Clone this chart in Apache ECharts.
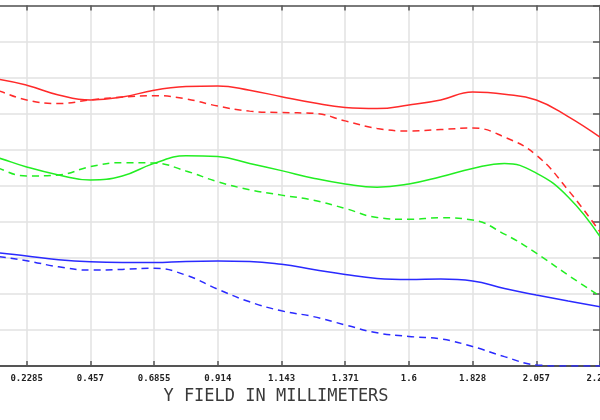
<!DOCTYPE html>
<html>
<head>
<meta charset="utf-8">
<script src="https://cdn.jsdelivr.net/npm/echarts@6/dist/echarts.min.js"></script>
<style>html,body{margin:0;padding:0;background:#fff}#c{width:600px;height:420px}</style>
</head>
<body>
<div id="c"></div>
<script>
// Field positions (mm)
const fields = [0, 0.1143, 0.2285, 0.3428, 0.457, 0.5713, 0.6855, 0.7998, 0.914, 1.0283, 1.1425, 1.2568, 1.371, 1.4853, 1.5995, 1.7138, 1.828, 1.9423, 2.0565, 2.1708, 2.285];
const tickLabels = ['0', '0.2285', '0.457', '0.6855', '0.914', '1.143', '1.371', '1.6', '1.828', '2.057', '2.285'];
const xTitle = 'Y FIELD IN MILLIMETERS';

const redSolid   = [0.804, 0.797, 0.779, 0.752, 0.738, 0.746, 0.765, 0.775, 0.777, 0.765, 0.747, 0.730, 0.717, 0.714, 0.724, 0.738, 0.760, 0.754, 0.738, 0.692, 0.635];
const redDashed  = [0.785, 0.766, 0.738, 0.728, 0.738, 0.746, 0.750, 0.741, 0.721, 0.707, 0.703, 0.701, 0.680, 0.659, 0.652, 0.656, 0.660, 0.635, 0.585, 0.488, 0.372];
const greenSolid = [0.599, 0.580, 0.552, 0.530, 0.516, 0.527, 0.562, 0.583, 0.581, 0.562, 0.542, 0.521, 0.505, 0.496, 0.505, 0.525, 0.548, 0.562, 0.535, 0.469, 0.359];
const greenDashed= [0.580, 0.552, 0.527, 0.530, 0.553, 0.564, 0.563, 0.541, 0.511, 0.489, 0.474, 0.460, 0.437, 0.412, 0.407, 0.411, 0.405, 0.366, 0.313, 0.252, 0.194];
const blueSolid  = [0.322, 0.315, 0.305, 0.295, 0.289, 0.287, 0.287, 0.290, 0.291, 0.290, 0.282, 0.268, 0.254, 0.243, 0.240, 0.241, 0.236, 0.215, 0.197, 0.180, 0.164];
const blueDashed = [0.316, 0.305, 0.292, 0.275, 0.266, 0.268, 0.271, 0.252, 0.213, 0.178, 0.153, 0.137, 0.114, 0.092, 0.082, 0.075, 0.054, 0.026, 0.003, 0.000, 0.000];

function pairs(arr){ return fields.map((f,i)=>[f, arr[i]]); }
function mk(data, color, dashed){
  return {
    type:'line', data: pairs(data), smooth: 0.45, symbol:'none', xAxisIndex:0, yAxisIndex:0,
    lineStyle:{color:color, width:1.5, type: dashed ? [7,5] : 'solid'}
  };
}

const chart = echarts.init(document.getElementById('c'), null, {renderer:'canvas'});
const frame = '#555';
const grid = '#e2e2e2';
chart.setOption({
  animation:false,
  backgroundColor:'#fff',
  grid:{left:-37, right:0, top:5.5, bottom:54, containLabel:false, outerBoundsMode:'none'},
  xAxis:[{
    type:'value', min:0, max:2.285, interval:0.2285, position:'bottom',
    name: xTitle, nameLocation:'middle', nameGap:19,
    nameTextStyle:{fontFamily:'DejaVu Sans Mono', fontSize:17, color:'#3a3a3a', padding:[0,11,0,0]},
    axisLine:{show:true, onZero:false, lineStyle:{color:frame, width:2}},
    axisTick:{show:true, inside:true, length:5, lineStyle:{color:frame, width:1.5}},
    axisLabel:{show:true, showMaxLabel:true, hideOverlap:false, margin:8, fontFamily:'DejaVu Sans Mono', fontWeight:'bold', fontSize:9, color:'#222',
      formatter:(v)=>tickLabels[Math.round(v/0.2285)]},
    splitLine:{show:true, lineStyle:{color:grid, width:1.5}}
  },{
    type:'value', min:0, max:2.285, interval:0.2285, position:'top',
    axisLine:{show:true, onZero:false, lineStyle:{color:frame, width:1.5}},
    axisTick:{show:true, inside:true, length:5, lineStyle:{color:frame, width:1.5}},
    axisLabel:{show:false}, splitLine:{show:false}
  }],
  yAxis:[{
    type:'value', min:0, max:1, interval:0.1, position:'left',
    axisLine:{show:false}, axisTick:{show:false}, axisLabel:{show:false},
    splitLine:{show:true, lineStyle:{color:grid, width:1.5}}
  },{
    type:'value', min:0, max:1, interval:0.1, position:'right',
    axisLine:{show:true, onZero:false, lineStyle:{color:frame, width:1.5}},
    axisTick:{show:true, inside:true, length:7, lineStyle:{color:frame, width:1.5}},
    axisLabel:{show:false}, splitLine:{show:false}
  }],
  series:[
    mk(redSolid,'#ff2a2a',false),
    mk(redDashed,'#ff2a2a',true),
    mk(greenSolid,'#22ee22',false),
    mk(greenDashed,'#22ee22',true),
    mk(blueSolid,'#2a2aff',false),
    mk(blueDashed,'#2a2aff',true)
  ]
});
</script>
</body>
</html>
